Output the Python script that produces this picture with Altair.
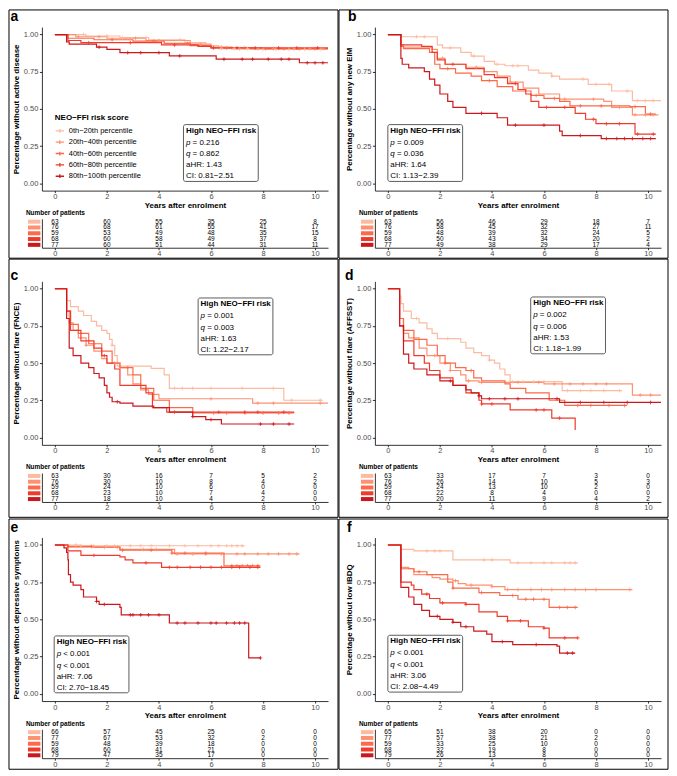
import altair as alt
import pandas as pd

GROUPS = ["0th\u221220th percentile", "20th\u221240th percentile", "40th\u221260th percentile",
          "60th\u221280th percentile", "80th\u2212100th percentile"]
COLORS = ["#FCBBA1", "#FC9272", "#FB6A4A", "#EF3B2C", "#CB181D"]
TABLE_TIMES = [0, 2, 4, 6, 8, 10]
Y_TICKS = [0, 0.25, 0.5, 0.75, 1.0]
LETTERS = ["a", "b", "c", "d", "e", "f"]
Y_TITLES = ["Percentage without active disease", "Percentage without any new EIM",
            "Percentage without flare (FNCE)", "Percentage without flare (AFFSST)",
            "Percentage without depressive symptoms", "Percentage without low IBDQ"]
P_TEXT = ["= 0.216", "= 0.009", "= 0.001", "= 0.002", "< 0.001", "< 0.001"]
Q_TEXT = ["= 0.862", "= 0.036", "= 0.003", "= 0.006", "< 0.001", "< 0.001"]
AHR_TEXT = ["aHR: 1.43", "aHR: 1.64", "aHR: 1.63", "aHR: 1.53", "aHR: 7.06", "aHR: 3.06"]
CI_TEXT = ["CI: 0.81\u22122.51", "CI: 1.13\u22122.39", "CI: 1.22\u22122.17",
           "CI: 1.18\u22121.99", "CI: 2.70\u221218.45", "CI: 2.08\u22124.49"]

# ---------------- panel a : active disease ----------------
A_T = [[0, 1.2, 2.5, 3.6, 5.0, 5.8, 6.3, 7.5],
       [0, 0.8, 2.0, 3.5, 5.2, 6.0, 6.8],
       [0, 0.5, 1.5, 3.0, 4.2, 5.2, 6.0, 8.0],
       [0, 0.5, 1.0, 4.1, 5.5, 6.0],
       [0, 0.45, 0.55, 1.6, 2.0, 2.5, 4.4, 6.2, 9.4]]
A_S = [[1, 0.99, 0.98, 0.965, 0.945, 0.925, 0.905, 0.90],
       [1, 0.985, 0.975, 0.96, 0.935, 0.915, 0.905],
       [1, 0.975, 0.965, 0.955, 0.94, 0.925, 0.91, 0.905],
       [1, 0.96, 0.945, 0.93, 0.92, 0.91],
       [1, 0.95, 0.935, 0.915, 0.90, 0.878, 0.856, 0.834, 0.81]]
A_END = [10.5, 10.5, 10.5, 10.5, 10.5]
A_CENS = [[1.1, 2.0, 2.6, 3.5, 4.8, 6.4, 6.9, 7.4, 8.0, 8.5, 9.0, 9.6, 10.2],
          [0.9, 1.7, 3.1, 4.0, 5.6, 6.4, 7.1, 7.8, 8.4, 9.2, 9.8, 10.3],
          [2.2, 3.8, 5.1, 6.6, 7.3, 8.1, 8.8, 9.4, 10.0],
          [1.3, 2.9, 4.6, 6.1, 7.0, 7.7, 8.6, 9.3, 10.1],
          [1.7, 2.8, 3.3, 4.0, 4.8, 6.5, 7.2, 7.6, 8.2, 8.7, 9.0, 9.7, 10.0, 10.3]]
A_RISK = [[63, 60, 55, 35, 25, 8], [76, 68, 61, 55, 41, 17], [59, 53, 49, 48, 35, 15],
          [68, 60, 58, 49, 37, 8], [77, 60, 51, 44, 31, 11]]

# ---------------- panel b : new EIM ----------------
B_T = [[0, 0.5, 1.9, 2.1, 2.8, 3.2, 3.7, 4.1, 4.5, 5.4, 5.8, 6.3, 6.6, 7.7, 8.6, 9.4],
       [0, 0.5, 0.6, 1.7, 1.9, 2.2, 3.0, 3.7, 4.2, 4.7, 5.2, 5.8, 6.6, 8.3, 8.6, 9.4],
       [0, 0.5, 0.6, 1.6, 1.8, 2.0, 2.6, 3.2, 3.6, 4.2, 4.8, 5.5, 6.0, 6.6, 7.0, 9.3, 9.9],
       [0, 0.5, 1.3, 1.7, 1.9, 2.2, 3.0, 3.7, 4.1, 4.6, 5.0, 5.3, 5.5, 5.8, 7.2, 7.6, 8.0, 9.5],
       [0, 0.5, 0.55, 0.8, 1.4, 1.6, 1.8, 2.0, 2.3, 2.5, 3.0, 4.2, 4.6, 6.6, 6.7, 8.2]]
B_S = [[1, 0.985, 0.93, 0.91, 0.88, 0.855, 0.82, 0.80, 0.79, 0.76, 0.74, 0.72, 0.70, 0.665, 0.62, 0.555],
       [1, 0.93, 0.915, 0.90, 0.84, 0.80, 0.78, 0.75, 0.72, 0.68, 0.64, 0.60, 0.565, 0.55, 0.51, 0.46],
       [1, 0.92, 0.905, 0.88, 0.80, 0.77, 0.74, 0.72, 0.69, 0.65, 0.62, 0.59, 0.57, 0.55, 0.52, 0.515, 0.465],
       [1, 0.93, 0.92, 0.88, 0.83, 0.80, 0.77, 0.73, 0.71, 0.67, 0.63, 0.60, 0.55, 0.51, 0.47, 0.43, 0.40, 0.33],
       [1, 0.84, 0.80, 0.775, 0.75, 0.70, 0.66, 0.60, 0.55, 0.51, 0.47, 0.44, 0.39, 0.35, 0.32, 0.30]]
B_END = [10.5, 10.4, 10.3, 10.3, 10.3]
B_CENS = [[1.1, 1.4, 2.4, 3.3, 4.2, 4.8, 5.0, 6.3, 7.5, 8.0, 8.5, 9.2, 9.6, 9.9, 10.2],
          [2.1, 3.4, 4.7, 6.8, 7.9, 8.9, 9.5, 9.9, 10.2],
          [2.3, 3.9, 5.7, 6.4, 7.4, 8.2, 9.5, 10.1],
          [2.5, 4.9, 6.1, 6.8, 7.9, 8.4, 8.9, 9.6, 10.2],
          [3.6, 4.9, 6.0, 7.4, 8.4, 8.8, 9.1, 9.4, 9.8, 10.1]]
B_RISK = [[63, 56, 46, 29, 18, 7], [76, 58, 45, 32, 27, 11], [59, 48, 39, 32, 24, 5],
          [68, 50, 43, 34, 20, 2], [77, 49, 38, 29, 17, 4]]

# ---------------- panel c : flare (FNCE) ----------------
C_T = [[0, 0.45, 0.6, 0.9, 1.1, 1.4, 1.6, 1.8, 2.0, 2.1, 2.2, 2.3, 2.4, 3.7, 4.2, 4.4, 8.8],
       [0, 0.45, 0.55, 0.7, 0.9, 1.2, 1.5, 1.8, 2.0, 2.5, 2.8, 3.0, 3.3, 3.6, 4.0, 7.6],
       [0, 0.45, 0.6, 0.9, 1.3, 1.8, 2.2, 2.5, 3.0, 3.3, 3.8, 4.4, 5.3],
       [0, 0.45, 0.6, 1.0, 1.5, 1.8, 2.0, 2.3, 2.5, 3.5, 3.75, 4.3],
       [0, 0.45, 0.55, 0.7, 1.0, 1.3, 1.5, 1.7, 1.9, 2.0, 2.1, 2.2, 2.5, 3.0, 3.8, 4.4, 5.3, 5.8, 6.4]]
C_S = [[1, 0.92, 0.88, 0.85, 0.82, 0.78, 0.75, 0.72, 0.70, 0.66, 0.62, 0.55, 0.48, 0.465, 0.42, 0.33, 0.25],
       [1, 0.85, 0.77, 0.72, 0.67, 0.62, 0.58, 0.53, 0.50, 0.47, 0.42, 0.36, 0.32, 0.29, 0.26, 0.23],
       [1, 0.85, 0.76, 0.70, 0.63, 0.58, 0.50, 0.47, 0.42, 0.33, 0.25, 0.20, 0.165],
       [1, 0.85, 0.72, 0.65, 0.60, 0.55, 0.50, 0.46, 0.35, 0.30, 0.20, 0.17],
       [1, 0.80, 0.60, 0.55, 0.50, 0.47, 0.43, 0.40, 0.35, 0.30, 0.27, 0.24, 0.23, 0.21, 0.20, 0.17, 0.14, 0.12, 0.09]]
C_END = [10.3, 10.5, 9.2, 9.2, 9.2]
C_CENS = [[2.2, 4.6, 4.9, 5.3, 6.0, 7.2, 8.4, 9.1, 10.2],
          [1.2, 2.3, 6.0, 7.8, 8.4, 10.2],
          [1.5, 2.8, 6.1, 6.6, 7.3, 8.0, 8.6, 9.0],
          [1.9, 4.6, 6.3, 7.3, 7.8, 8.8],
          [2.4, 5.3, 6.0, 7.9, 8.4, 9.0]]
C_RISK = [[63, 30, 16, 7, 5, 2], [76, 30, 10, 8, 4, 2], [59, 24, 10, 6, 0, 0],
          [68, 23, 10, 7, 4, 0], [77, 18, 10, 4, 2, 0]]

# ---------------- panel d : flare (AFFSST) ----------------
D_T = [[0, 0.45, 0.5, 0.6, 0.9, 1.2, 1.5, 1.7, 1.9, 2.8, 3.0, 3.3, 3.6, 3.9, 4.1, 4.3, 4.5, 4.7, 6.7],
       [0, 0.45, 0.6, 0.8, 1.2, 1.5, 2.0, 2.4, 2.8, 3.0, 3.5, 6.0, 9.4],
       [0, 0.45, 0.6, 1.0, 1.5, 1.9, 2.2, 2.6, 3.0, 3.3, 3.6, 4.5, 4.7, 5.3, 6.2, 6.8],
       [0, 0.45, 0.6, 1.0, 1.4, 1.6, 2.0, 2.5, 3.0, 3.5, 3.6, 4.7, 6.3, 7.2],
       [0, 0.45, 0.6, 0.8, 1.0, 1.5, 2.0, 2.5, 3.0, 3.2, 3.5, 3.6, 6.6]]
D_S = [[1, 0.95, 0.90, 0.85, 0.80, 0.77, 0.73, 0.70, 0.665, 0.64, 0.60, 0.57, 0.55, 0.52, 0.50, 0.46, 0.42, 0.375, 0.315],
       [1, 0.80, 0.70, 0.67, 0.60, 0.55, 0.50, 0.45, 0.42, 0.38, 0.37, 0.36, 0.285],
       [1, 0.80, 0.72, 0.66, 0.62, 0.55, 0.50, 0.47, 0.45, 0.40, 0.38, 0.36, 0.33, 0.30, 0.25, 0.215],
       [1, 0.75, 0.65, 0.55, 0.50, 0.45, 0.40, 0.35, 0.30, 0.25, 0.225, 0.185, 0.13, 0.05],
       [1, 0.75, 0.56, 0.50, 0.46, 0.42, 0.38, 0.35, 0.32, 0.30, 0.28, 0.26, 0.235]]
D_END = [9.0, 10.5, 9.2, 7.2, 10.5]
D_CENS = [[1.1, 2.3, 3.9, 4.8, 5.2, 5.6, 6.0, 6.9, 7.4, 7.8, 8.3, 8.9],
          [1.8, 2.4, 3.1, 3.6, 5.0, 5.8, 6.4, 7.0, 7.5, 8.0, 8.4, 9.7, 10.1],
          [2.2, 3.2, 7.3, 7.8, 8.5, 9.1],
          [3.6, 4.0, 5.7, 6.0, 6.6],
          [2.4, 3.5, 3.9, 4.5, 5.0, 6.5, 7.4, 8.3, 9.2, 10.1]]
D_RISK = [[63, 33, 17, 7, 3, 0], [76, 26, 14, 10, 5, 3], [59, 24, 13, 10, 2, 0],
          [68, 22, 8, 4, 0, 0], [77, 20, 11, 9, 4, 2]]

# ---------------- panel e : depressive symptoms ----------------
E_T = [[0, 1.0],
       [0, 0.5, 2.5, 4.6],
       [0, 0.5, 1.5, 2.5, 4.5, 6.5],
       [0, 0.5, 1.0, 2.5, 2.7, 3.0, 4.1],
       [0, 0.35, 0.45, 0.5, 0.52, 0.6, 0.7, 1.0, 1.1, 1.6, 1.7, 2.5, 2.55, 4.4, 7.45]]
E_S = [[1, 0.995],
       [1, 0.985, 0.97, 0.94],
       [1, 0.99, 0.985, 0.965, 0.945, 0.86],
       [1, 0.96, 0.93, 0.92, 0.90, 0.88, 0.85],
       [1, 0.98, 0.95, 0.90, 0.80, 0.75, 0.73, 0.70, 0.65, 0.62, 0.60, 0.58, 0.53, 0.475, 0.24]]
E_END = [7.3, 9.4, 7.9, 7.9, 7.9]
E_CENS = [[0.8, 1.0, 1.5, 2.0, 2.3, 2.9, 3.3, 3.7, 4.4, 5.0, 5.5, 6.0, 6.3, 6.6, 6.8, 7.0, 7.2],
          [1.9, 2.4, 3.4, 3.9, 4.7, 5.3, 5.8, 6.4, 7.0, 7.3, 7.8, 8.2, 8.6, 9.0, 9.3],
          [1.4, 2.6, 3.7, 4.5, 5.0, 5.8, 6.8, 7.0, 7.2, 7.4, 7.6, 7.8],
          [1.5, 3.5, 4.4, 4.7, 5.2, 5.6, 6.0, 6.4, 6.8, 7.1, 7.5, 7.8],
          [1.6, 1.9, 2.9, 3.0, 3.3, 3.6, 4.0, 4.7, 5.0, 5.5, 6.0, 6.2, 6.6, 6.9, 7.1, 7.3, 7.9]]
E_RISK = [[66, 57, 45, 25, 0, 0], [77, 67, 53, 32, 2, 0], [59, 48, 39, 18, 0, 0],
          [68, 60, 41, 21, 0, 0], [79, 47, 35, 17, 0, 0]]

# ---------------- panel f : low IBDQ ----------------
F_T = [[0, 0.5, 1.0, 2.5, 4.7],
       [0, 0.5, 0.8, 1.0, 1.7, 2.0, 2.5, 2.7, 3.0, 4.0, 4.5],
       [0, 0.5, 1.0, 1.5, 2.3, 2.5, 3.5, 4.3, 5.0, 6.2],
       [0, 0.5, 0.9, 1.0, 1.3, 1.6, 2.0, 3.0, 3.5, 4.2, 4.6, 5.4, 6.0, 6.2],
       [0, 0.5, 0.8, 1.0, 1.3, 1.6, 2.0, 2.5, 2.8, 3.3, 3.8, 4.0, 4.8, 6.5, 6.6]]
F_S = [[1, 0.97, 0.96, 0.90, 0.88],
       [1, 0.85, 0.84, 0.80, 0.78, 0.77, 0.76, 0.74, 0.73, 0.72, 0.70],
       [1, 0.84, 0.82, 0.80, 0.75, 0.71, 0.68, 0.66, 0.635, 0.58],
       [1, 0.75, 0.73, 0.70, 0.67, 0.64, 0.61, 0.60, 0.55, 0.52, 0.49, 0.45, 0.44, 0.375],
       [1, 0.715, 0.65, 0.60, 0.56, 0.52, 0.50, 0.48, 0.45, 0.42, 0.40, 0.35, 0.33, 0.32, 0.273]]
F_END = [7.3, 9.4, 7.3, 7.3, 7.2]
F_CENS = [[1.5, 1.8, 2.0, 3.7, 4.0, 5.0, 5.5, 6.0, 6.3, 6.8, 7.0, 7.2],
          [2.6, 3.2, 4.0, 4.6, 5.0, 5.5, 5.9, 6.3, 6.8, 7.2, 7.6, 8.0, 9.3],
          [1.2, 2.5, 3.6, 4.8, 5.3, 5.6, 6.0, 6.6, 6.9, 7.2],
          [1.5, 2.1, 3.0, 4.6, 5.1, 6.0, 6.8, 7.3],
          [1.9, 2.5, 3.0, 4.4, 5.7, 6.9, 7.1]]
F_RISK = [[65, 51, 38, 20, 0, 0], [77, 57, 38, 21, 2, 0], [59, 33, 25, 10, 0, 0],
          [68, 32, 19, 8, 0, 0], [79, 26, 13, 8, 0, 0]]

PANELS = [(A_T, A_S, A_END, A_CENS, A_RISK), (B_T, B_S, B_END, B_CENS, B_RISK),
          (C_T, C_S, C_END, C_CENS, C_RISK), (D_T, D_S, D_END, D_CENS, D_RISK),
          (E_T, E_S, E_END, E_CENS, E_RISK), (F_T, F_S, F_END, F_CENS, F_RISK)]

# ---------------- layout / style ----------------
FONT = "Liberation Sans"
W, H, TH = 287, 164, 29
ONE = pd.DataFrame({"k": [0]})
CROSS = "M-1,0L1,0M0,-1L0,1"
LEG_SYM = "M-1,0L1,0M0,-0.45L0,0.45"
SW = 1.0
BORDER_X = [(-33, 297), (-36, 294)]
BORDER_Y = [(-17.2, 231.8), (-22.3, 236.7), (-18.6, 232.4)]
LETTER_POS = [(-31.5, -6), (-27, -6), (-31.5, -1.3), (-30, -1.3), (-31.5, -5.6), (-28, -5.6)]
BOX_POS = [(142, 97.8), (13, 97.8), (156.7, 16.7), (156.3, 15.7), (12.3, 98.7), (13, 98)]
BOX_W, BOX_H = 75, 57
LINE_DY = [6, 18, 29.7, 41, 52]


def surv_at(ts, ss, t):
    v = ss[0]
    for ti, si in zip(ts, ss):
        if ti <= t:
            v = si
    return v


def txt(text, x, y, size=8, weight="normal", style="normal", baseline="middle"):
    return alt.Chart(ONE).mark_text(text=text, font=FONT, fontSize=size, fontWeight=weight,
                                    fontStyle=style, align="left", baseline=baseline,
                                    color="black").encode(x=alt.value(x), y=alt.value(y))


def km_chart(i):
    T, S, END, CENS, _ = PANELS[i]
    col, row = i % 2, i // 2
    rows = []
    for g in range(5):
        for t, s in zip(T[g], S[g]):
            rows.append(dict(grp=GROUPS[g], col=COLORS[g], t=t, s=s))
        rows.append(dict(grp=GROUPS[g], col=COLORS[g], t=END[g], s=S[g][-1]))
    cdf = pd.DataFrame(rows)
    crows = []
    for g in range(5):
        for c in CENS[g]:
            crows.append(dict(grp=GROUPS[g], col=COLORS[g], t=c, s=surv_at(T[g], S[g], c)))
    pdf = pd.DataFrame(crows)

    x = alt.X("t:Q", scale=alt.Scale(domain=[-0.5, 10.5], nice=False, zero=False),
              axis=alt.Axis(values=TABLE_TIMES, format="d", title="Years after enrolment",
                            titlePadding=1, labelPadding=0, tickSize=2, labelOverlap=False))
    y = alt.Y("s:Q", scale=alt.Scale(domain=[-0.05, 1.05], nice=False, zero=False),
              axis=alt.Axis(values=Y_TICKS, format=".2f", title=Y_TITLES[i],
                            titlePadding=3, labelPadding=1.5, tickSize=2.5, labelOverlap=False))
    if i == 0:
        color = alt.Color("grp:N", scale=alt.Scale(domain=GROUPS, range=COLORS),
                          legend=alt.Legend(title="NEO\u2212FFI risk score", orient="none",
                                            legendX=13, legendY=87, titleFontSize=8,
                                            titleFont=FONT, titleFontWeight="bold",
                                            titleColor="black", labelFontSize=7.5,
                                            labelFont=FONT, labelColor="black",
                                            symbolType=LEG_SYM, symbolSize=70,
                                            symbolStrokeWidth=1.3, rowPadding=1.4,
                                            titlePadding=4, labelOffset=4))
    else:
        color = alt.Color("col:N", scale=None)

    bx0, bx1 = BORDER_X[col]
    by0, by1 = BORDER_Y[row]
    border = alt.Chart(ONE).mark_rect(fillOpacity=0, stroke="black", strokeWidth=SW).encode(
        x=alt.value(bx0), x2=alt.value(bx1), y=alt.value(by0), y2=alt.value(by1))
    lines = alt.Chart(cdf).mark_line(interpolate="step-after", strokeWidth=1.2).encode(
        x=x, y=y, color=color, detail="grp:N")
    pts = alt.Chart(pdf).mark_point(shape=CROSS, size=14, filled=False, strokeWidth=0.8,
                                    opacity=1).encode(
        x="t:Q", y="s:Q", color=alt.Color("col:N", scale=None))
    bx, byy = BOX_POS[i]
    box = alt.Chart(ONE).mark_rect(fill="white", stroke="#333333", strokeWidth=0.8,
                                   cornerRadius=2).encode(
        x=alt.value(bx), x2=alt.value(bx + BOX_W), y=alt.value(byy), y2=alt.value(byy + BOX_H))
    tx = bx + 2.5
    layers = [border, lines, pts, box,
              txt("High NEO\u2212FFI risk", tx, byy + LINE_DY[0], weight="bold"),
              txt("p", tx, byy + LINE_DY[1], style="italic"),
              txt(P_TEXT[i], tx + 6.6, byy + LINE_DY[1]),
              txt("q", tx, byy + LINE_DY[2], style="italic"),
              txt(Q_TEXT[i], tx + 6.6, byy + LINE_DY[2]),
              txt(AHR_TEXT[i], tx, byy + LINE_DY[3]),
              txt(CI_TEXT[i], tx, byy + LINE_DY[4])]
    lx, ly = LETTER_POS[i]
    layers.append(txt(LETTERS[i], lx, ly, size=14, weight="bold", baseline="alphabetic"))
    return alt.layer(*layers).properties(width=W, height=H)


def table_chart(i):
    RISK = PANELS[i][4]
    rows = []
    for g in range(5):
        for t, n in zip(TABLE_TIMES, RISK[g]):
            rows.append(dict(grp=GROUPS[g], t=t, n=str(n)))
    tdf = pd.DataFrame(rows)
    bdf = pd.DataFrame({"grp": GROUPS, "col": COLORS})
    ys = alt.Scale(domain=GROUPS, paddingInner=0, paddingOuter=0)
    x = alt.X("t:Q", scale=alt.Scale(domain=[-0.5, 10.5], nice=False, zero=False),
              axis=alt.Axis(values=TABLE_TIMES, format="d", title=None, labelPadding=0,
                            tickSize=2, labelOverlap=False))
    y = alt.Y("grp:N", scale=ys, axis=alt.Axis(labels=False, ticks=False, title=None, domain=True))
    numbers = alt.Chart(tdf).mark_text(fontSize=6.5, font=FONT, color="black").encode(
        x=x, y=y, text="n:N")
    bars = alt.Chart(bdf).mark_rule(strokeWidth=4).encode(
        x=alt.value(-14), x2=alt.value(-1.5), y=alt.Y("grp:N", scale=ys),
        color=alt.Color("col:N", scale=None))
    return alt.layer(numbers, bars).properties(
        width=W, height=TH,
        title=alt.TitleParams("Number of patients", anchor="start", fontSize=6.5,
                              fontWeight="bold", font=FONT, color="black", offset=2))


def panel(i):
    return alt.vconcat(km_chart(i), table_chart(i), spacing=28.3, bounds="flush").resolve_scale(
        color="independent")


rows_ = []
for r in range(3):
    rows_.append(alt.hconcat(panel(2 * r), panel(2 * r + 1), spacing=-SW).resolve_scale(
        color="independent"))

chart = alt.vconcat(*rows_, spacing=-SW).resolve_scale(
    color="independent").properties(padding=0).configure_view(stroke=None).configure_axis(
    labelFont=FONT, titleFont=FONT, labelFontSize=7.5, titleFontSize=8, titleFontWeight="bold",
    titleColor="black", labelColor="#4D4D4D", domainColor="black", tickColor="black",
    domainWidth=0.8, tickWidth=0.8, grid=False).configure_title(font=FONT)

chart.save("out.html", embed_options={"renderer": "svg", "actions": False})
